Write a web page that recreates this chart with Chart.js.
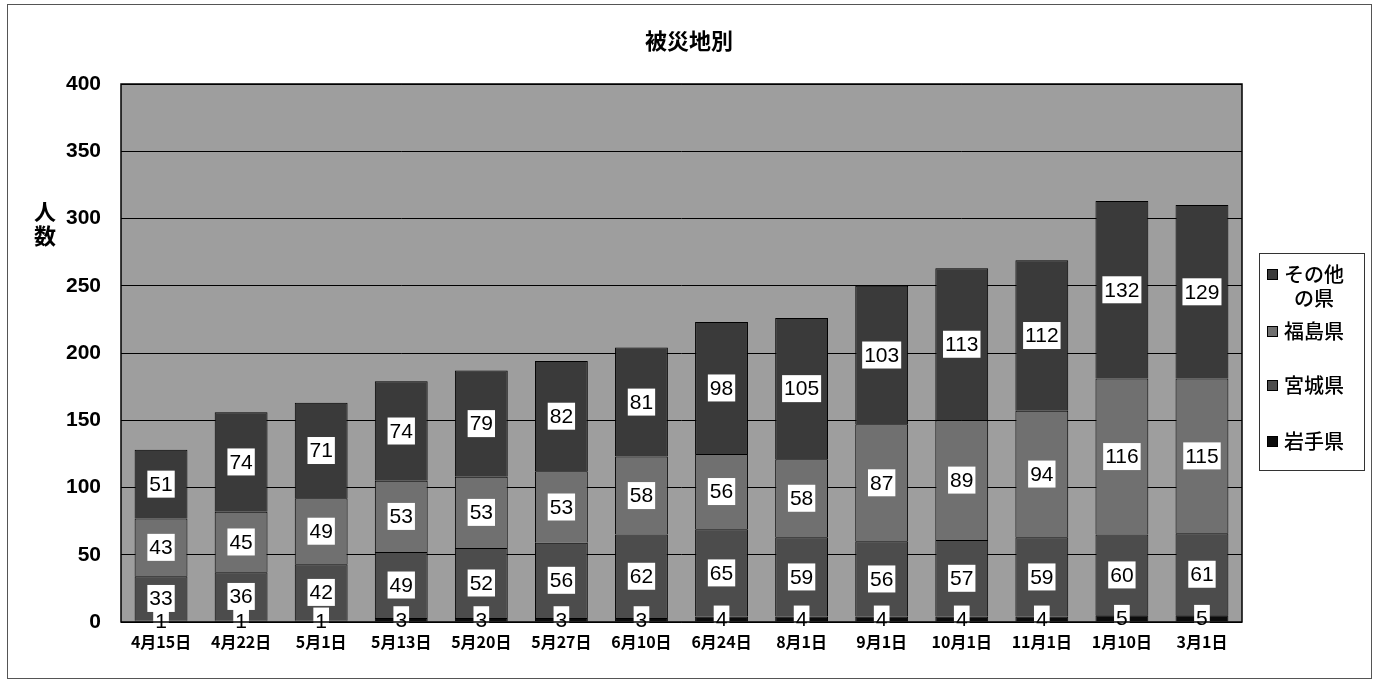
<!DOCTYPE html>
<html lang="ja">
<head>
<meta charset="UTF-8">
<title>被災地別</title>
<script src="https://cdn.jsdelivr.net/npm/chart.js@4.4.1/dist/chart.umd.min.js"></script>
<style>
  html, body { margin: 0; padding: 0; background: #fff; }
  #wrap { position: relative; width: 1387px; height: 687px; }
  #frame { position: absolute; left: 7px; top: 4px; width: 1365px; height: 675px; border: 1px solid #555; box-sizing: border-box; pointer-events: none; }
  #legend { position: absolute; left: 1259px; top: 253px; width: 106px; height: 218px; border: 1px solid #333; box-sizing: border-box;
    font-family: "Noto Sans CJK JP", sans-serif; font-size: 20px; font-weight: 500; line-height: 24px; color: #000; }
  #legend .item { position: absolute; left: 7px; display: flex; align-items: flex-start; }
  #legend .sw { width: 11px; height: 11px; border: 1px solid #000; margin-top: 7px; margin-right: 4px; box-sizing: border-box; flex: none; }
  #legend .txt { width: 64px; text-align: center; }
</style>
</head>
<body>
<div id="wrap">
  <canvas id="chart" width="1387" height="687"></canvas>
  <div id="frame"></div>
  <div id="legend"></div>
</div>
<script>
// 日付（横軸）
var labels = ['4月15日', '4月22日', '5月1日', '5月13日', '5月20日', '5月27日', '6月10日',
              '6月24日', '8月1日', '9月1日', '10月1日', '11月1日', '1月10日', '3月1日'];

// 県別の人数（下から積み上げ）
var iwate    = [1, 1, 1, 3, 3, 3, 3, 4, 4, 4, 4, 4, 5, 5];
var miyagi   = [33, 36, 42, 49, 52, 56, 62, 65, 59, 56, 57, 59, 60, 61];
var fukushima = [43, 45, 49, 53, 53, 53, 58, 56, 58, 87, 89, 94, 116, 115];
var others   = [51, 74, 71, 74, 79, 82, 81, 98, 105, 103, 113, 112, 132, 129];

var seriesNames = ['岩手県', '宮城県', '福島県', 'その他の県'];
var seriesData = [iwate, miyagi, fukushima, others];
var seriesColors = ['#0c0c0c', '#4c4c4c', '#707070', '#3a3a3a'];

var yTicks = [0, 50, 100, 150, 200, 250, 300, 350, 400];

var chartTitle = '被災地別';
var yTitle = ['人', '数'];

// プロット背景と外枠
var plotBg = {
  id: 'plotBg',
  beforeDraw: function (chart) {
    var a = chart.chartArea, c = chart.ctx;
    c.save();
    c.fillStyle = '#9e9e9e';
    c.fillRect(a.left, a.top, a.right - a.left, a.bottom - a.top);
    c.restore();
  },
  afterDraw: function (chart) {
    var a = chart.chartArea, c = chart.ctx;
    c.save();
    c.strokeStyle = '#000';
    c.lineWidth = 1.5;
    c.strokeRect(a.left, a.top, a.right - a.left, a.bottom - a.top);
    // タイトル
    c.fillStyle = '#000';
    c.font = 'bold 22px "Noto Sans CJK JP"';
    c.textAlign = 'center';
    c.textBaseline = 'middle';
    c.fillText(chartTitle, 689, 41);
    // 縦軸タイトル（縦書き）
    c.font = 'bold 22px "Noto Sans CJK JP"';
    for (var i = 0; i < yTitle.length; i++) {
      c.fillText(yTitle[i], 45, 212 + i * 24);
    }
    c.restore();
  }
};

// 各セグメントの数値ラベル（白い箱）
var boxLabels = {
  id: 'boxLabels',
  afterDatasetsDraw: function (chart) {
    var c = chart.ctx;
    c.save();
    c.font = '21px "Liberation Sans"';
    c.textAlign = 'center';
    c.textBaseline = 'middle';
    chart.data.datasets.forEach(function (ds, di) {
      var meta = chart.getDatasetMeta(di);
      meta.data.forEach(function (bar, i) {
        var txt = String(ds.data[i]);
        var cx = bar.x, cy = (bar.y + bar.base) / 2;
        var w = c.measureText(txt).width + 4, h = 27;
        c.fillStyle = '#fff';
        c.fillRect(cx - w / 2, cy - h / 2, w, h);
        c.fillStyle = '#000';
        c.fillText(txt, cx, cy + 1);
      });
    });
    c.restore();
  }
};

var datasets = seriesNames.map(function (name, k) {
  return {
    label: name,
    data: seriesData[k],
    backgroundColor: seriesColors[k],
    borderColor: '#000',
    borderWidth: 1,
    barPercentage: 0.66,
    categoryPercentage: 1.0
  };
});

new Chart(document.getElementById('chart'), {
  type: 'bar',
  data: { labels: labels, datasets: datasets },
  options: {
    responsive: false,
    animation: false,
    layout: { padding: { left: 0, right: 145, top: 84, bottom: 0 } },
    plugins: { legend: { display: false }, title: { display: false }, tooltip: { enabled: false } },
    scales: {
      x: {
        stacked: true,
        grid: { display: false },
        border: { display: false },
        ticks: { color: '#000', font: { family: '"Noto Sans CJK JP"', size: 16, weight: 'bold' }, padding: 2, maxRotation: 0, autoSkip: false },
        afterFit: function (s) { s.height = 65; }
      },
      y: {
        stacked: true,
        min: 0,
        max: 400,
        afterBuildTicks: function (s) { s.ticks = yTicks.map(function (v) { return { value: v }; }); },
        grid: { color: '#000', lineWidth: 1, drawTicks: false },
        border: { display: false },
        ticks: { color: '#000', font: { family: '"Liberation Sans"', size: 21, weight: 'bold' }, padding: 20 },
        afterFit: function (s) { s.width = 121; }
      }
    }
  },
  plugins: [plotBg, boxLabels]
});

// 凡例（上から その他 → 岩手）
var legendTops = [8, 65, 119, 175];
var legendText = ['その他<br>の県', '福島県', '宮城県', '岩手県'];
var lg = document.getElementById('legend');
for (var j = 0; j < 4; j++) {
  var k = 3 - j;
  var it = document.createElement('div');
  it.className = 'item';
  it.style.top = legendTops[j] + 'px';
  it.innerHTML = '<span class="sw" style="background:' + seriesColors[k] + '"></span><span class="txt">' + legendText[j] + '</span>';
  lg.appendChild(it);
}
</script>
</body>
</html>
